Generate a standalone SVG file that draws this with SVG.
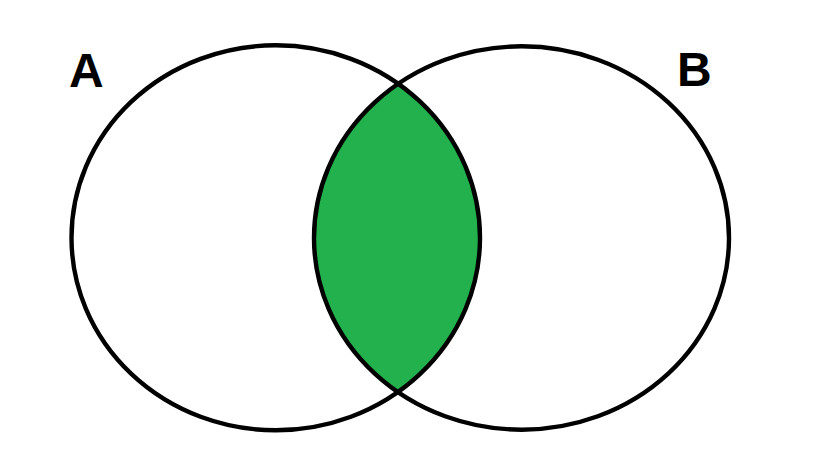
<svg xmlns="http://www.w3.org/2000/svg" width="819" height="460" viewBox="0 0 819 460">
<style>
.set{fill:none;stroke:#000;stroke-width:4.4}
.lbl{font-family:"Liberation Sans",Arial,sans-serif;font-weight:bold;font-size:48px;fill:#000}
</style>
<defs>
<clipPath id="clipA"><ellipse cx="275.75" cy="237.8" rx="204.25" ry="192.5"/></clipPath>
</defs>
<rect width="819" height="460" fill="#fff"/>
<g id="intersection">
<ellipse cx="521.5" cy="238" rx="207.5" ry="191.7" fill="#22b14c" clip-path="url(#clipA)"/>
</g>
<g id="setA">
<ellipse class="set" cx="275.75" cy="237.8" rx="204.25" ry="192.5"/>
<text class="lbl" x="69" y="87">A</text>
</g>
<g id="setB">
<ellipse class="set" cx="521.5" cy="238" rx="207.5" ry="191.7"/>
<text class="lbl" x="677" y="86">B</text>
</g>
</svg>
